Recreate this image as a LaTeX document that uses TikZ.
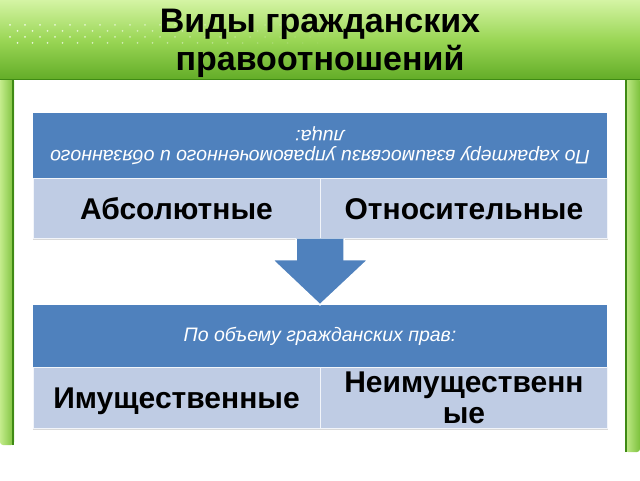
\documentclass[tikz,border=0pt]{standalone}
\usepackage{fontspec}
\setmainfont{Liberation Sans}
\usetikzlibrary{
    calc,
    positioning
}
\definecolor{hdrblue}{HTML}{4F81BD}
\definecolor{cellblue}{HTML}{BFCCE4}
\definecolor{bannertop}{HTML}{D4F4A4}
\definecolor{bannermid}{HTML}{9AD655}
\definecolor{bannerbot}{HTML}{62AC27}
\definecolor{edgegreen}{HTML}{3F8A14}
\definecolor{pillarlight}{HTML}{C4EC8C}
\definecolor{pillardark}{HTML}{7CC13C}

\begin{document}
\begin{tikzpicture}[
    x=1pt, y=1pt,
    hdrnode/.style = {rectangle, fill=hdrblue, inner sep=0pt,
                      minimum width=574pt, minimum height=65pt,
                      text=white, align=center,
                      font=\itshape\fontsize{19.5}{19.5}\selectfont},
    cellnode/.style = {rectangle, fill=cellblue, draw=white!80!cellblue,
                       inner sep=0pt,
                       minimum width=287pt, minimum height=60pt,
                       align=center,
                       font=\bfseries\fontsize{30}{31}\selectfont},
    oneline/.style = {text height=21.5pt, text depth=0pt},
    tableshadow/.style = {draw=black!15, line width=1.5pt},
    pillar/.style = {left color=pillarlight, right color=pillardark,
                     rounded corners=3pt},
    bigarrow/.style = {fill=hdrblue},
    arrowrim/.style = {draw=white, line width=1.5pt, line join=miter}
]
    \useasboundingbox (0,0) rectangle (640,480);
    \fill[white] (0,0) rectangle (640,480);

    % side pillars
    \shade[pillar] (0,35) rectangle (14,402);
    \draw[edgegreen, line width=1.5pt] (13.2,35) -- (13.2,400);
    \shade[pillar] (625,28) rectangle (640,402);
    \draw[edgegreen, line width=1.5pt] (625.8,28) -- (625.8,400);

    % title banner
    \shade[top color=bannertop, bottom color=bannerbot, middle color=bannermid]
        (0,400) rectangle (640,480);
    \draw[edgegreen, line width=1.5pt] (0,400.5) -- (640,400.5);
    \foreach \row/\off in {455/0, 449/7.5, 443/0, 437/7.5}
        \foreach \i in {0,...,21}
            \fill[white, opacity={max(0,0.85*(1-(10+\off+15*\i)/340))}]
                (10+\off+15*\i, \row) circle (1pt);
    \node (title) at (320,437)
        [align=center, font=\bfseries\fontsize{34}{38}\selectfont]
        {Виды гражданских\\правоотношений};

    % first table
    \node[hdrnode, rotate=180] (hdrA) at (320,334.5)
        {По характеру взаимосвязи управомоченного и обязанного\\лица:};
    \node[cellnode, oneline] (absA) [below right=0pt and 0pt of hdrA.north east] {Абсолютные};
    \node[cellnode, oneline] (relA) [right=0pt of absA] {Относительные};
    \draw[tableshadow] ($(absA.south west)+(0,-1)$) -- ($(relA.south east)+(0,-1)$);

    % second table
    \node[hdrnode, minimum height=62pt] (hdrB) at (320,144)
        {По объему гражданских прав:};
    \node[cellnode, oneline, minimum height=61pt] (propB) [below right=0pt and 0pt of hdrB.south west]
        {Имущественные};
    \node[cellnode, minimum height=61pt] (nonpB) [right=0pt of propB]
        {Неимущественн\\ые};
    \draw[tableshadow] ($(propB.south west)+(0,-1)$) -- ($(nonpB.south east)+(0,-1)$);

    % arrow between the tables
    \coordinate (shaftL) at ($(absA.south east)+(-24,0)$);
    \coordinate (shaftR) at ($(absA.south east)+(24,0)$);
    \fill[bigarrow] (shaftL) -- ++(0,-21) -- ++(-24,0) -- (hdrB.north)
        -- ($(shaftR)+(24,-21)$) -- ($(shaftR)+(0,-21)$) -- (shaftR) -- cycle;
    \draw[arrowrim] (shaftL) -- ++(0,-21) -- ++(-24,0) -- (hdrB.north)
        -- ($(shaftR)+(24,-21)$) -- ($(shaftR)+(0,-21)$) -- (shaftR);

\end{tikzpicture}
\end{document}
